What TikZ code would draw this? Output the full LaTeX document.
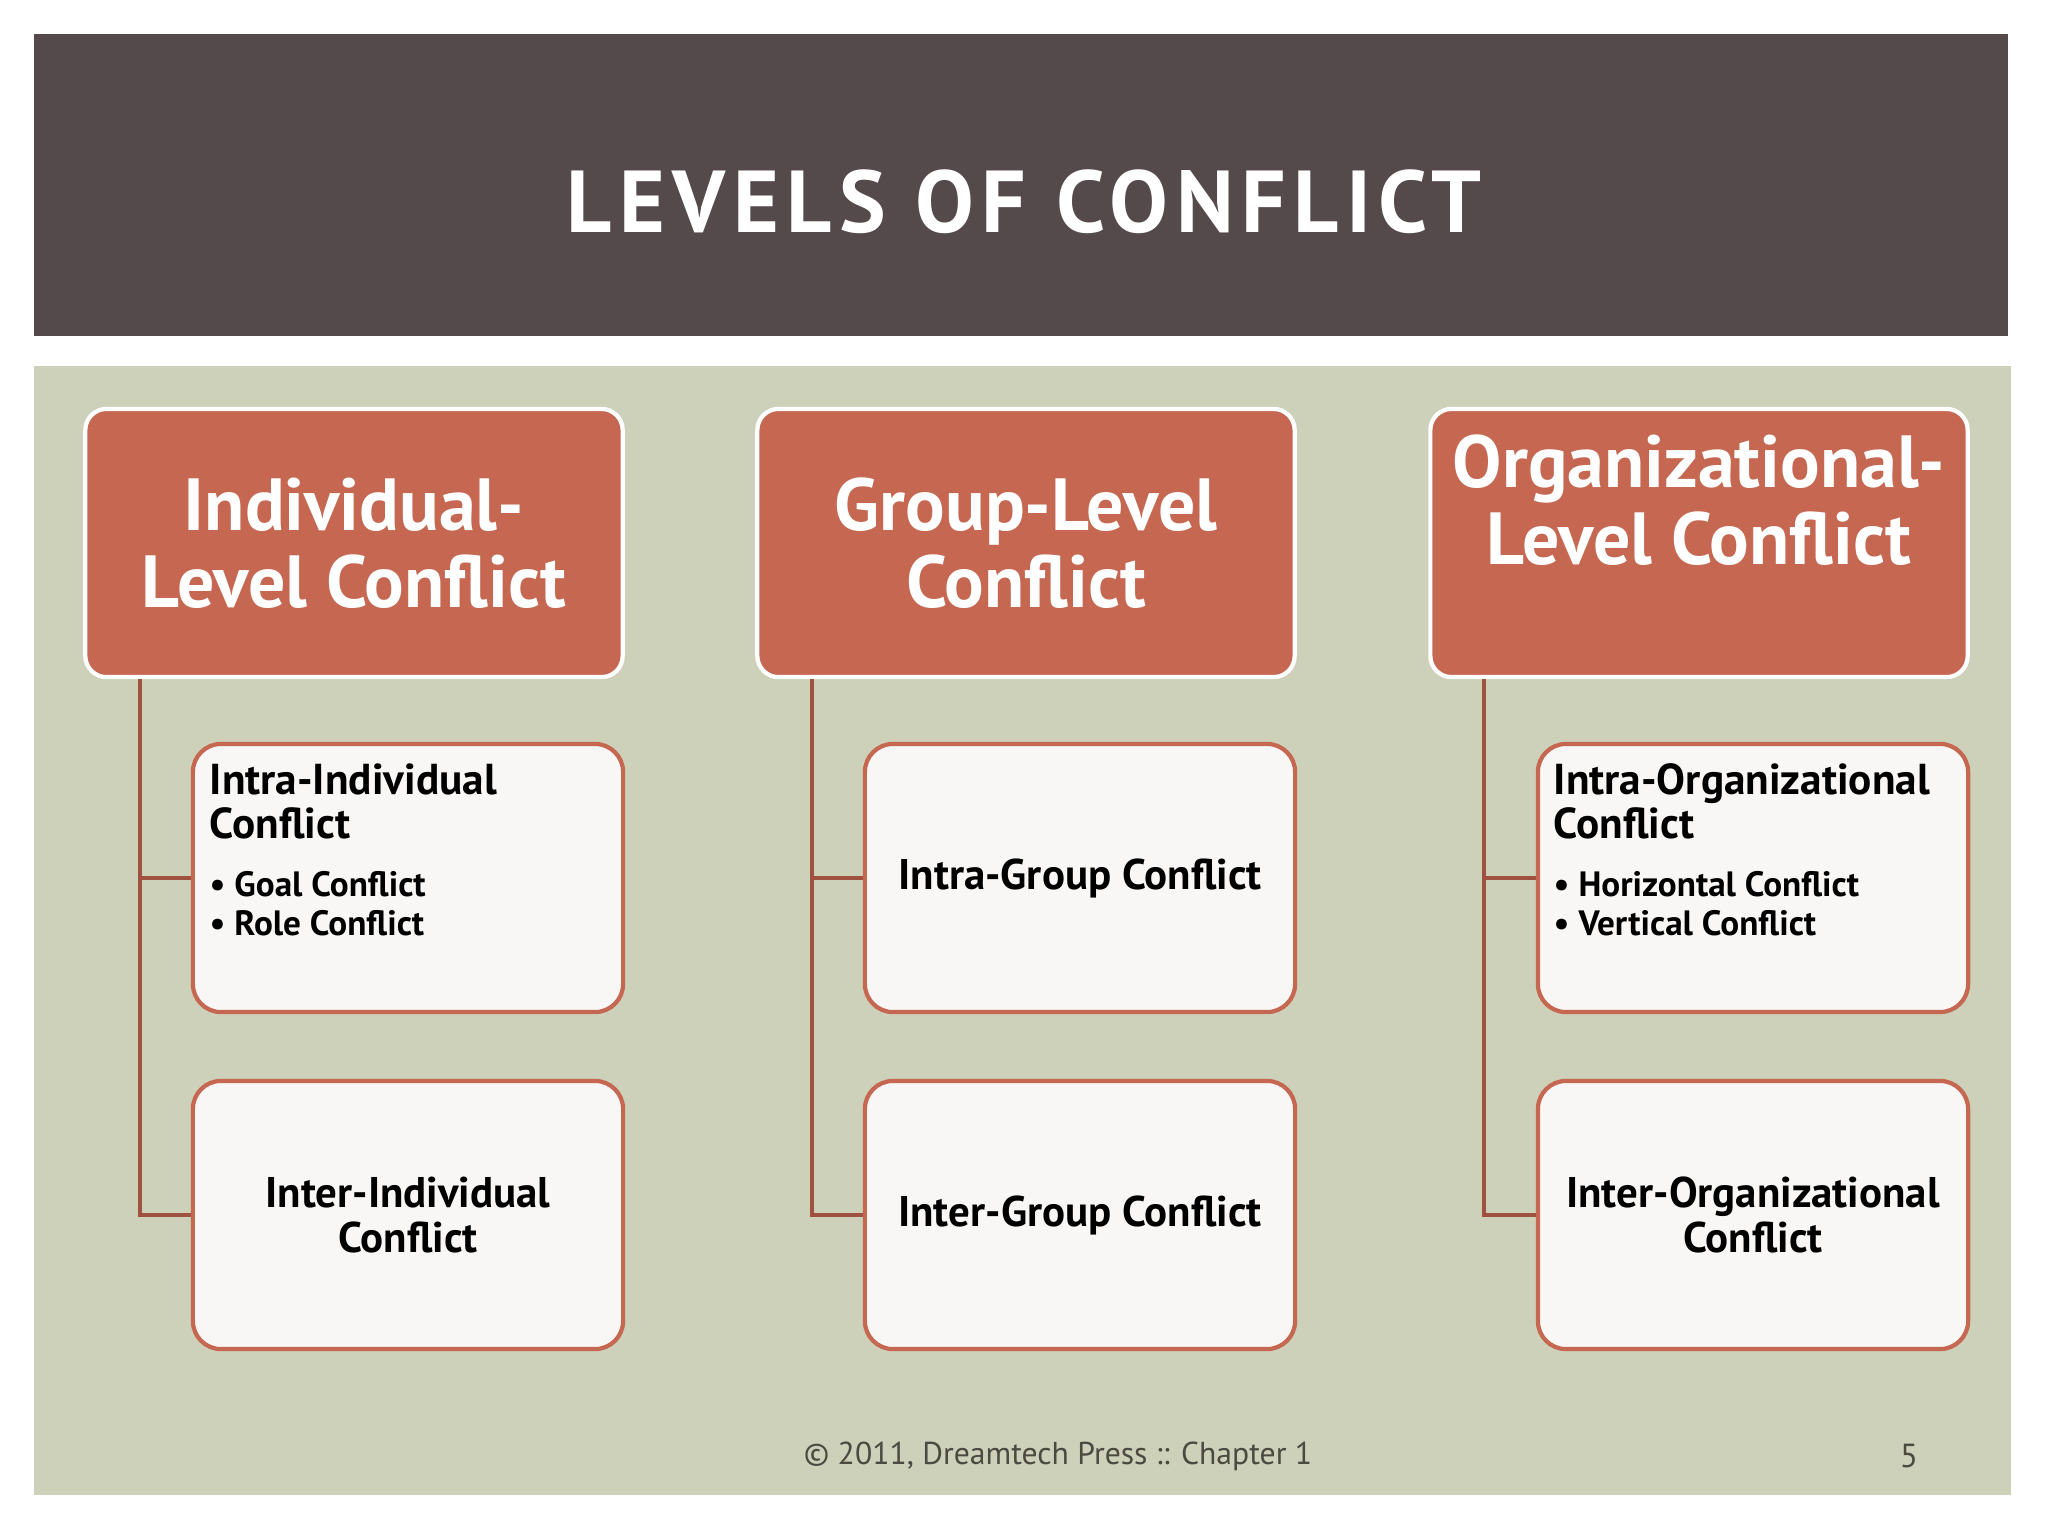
\documentclass[tikz,border=0pt]{standalone}
\usepackage{fontspec}
\setmainfont{PT Sans}
\newfontfamily\titrefont[LetterSpace=8.5]{PT Sans}
\usetikzlibrary{positioning}

\definecolor{bandeau}{RGB}{84,73,75}
\definecolor{fond}{RGB}{206,209,186}
\definecolor{brique}{RGB}{197,103,81}
\definecolor{trait}{RGB}{160,82,64}
\definecolor{papier}{RGB}{248,247,245}
\definecolor{pied}{RGB}{74,74,64}

\tikzset{
  niveau/.style={draw=white, line width=1.2pt, fill=brique, rounded corners=6pt,
    minimum width=5.37cm, minimum height=2.68cm},
  texteniveau/.style={text=white, align=center,
    font=\bfseries\fontsize{21}{22}\selectfont},
  sousniveau/.style={draw=brique, line width=1.2pt, fill=papier, rounded corners=8pt,
    minimum width=4.30cm, minimum height=2.68cm, align=center,
    font=\bfseries\fontsize{12.2}{12.7}\selectfont},
  titresous/.style={anchor=north west, inner sep=0pt, align=left,
    font=\bfseries\fontsize{12.3}{12.5}\selectfont},
  puces/.style={anchor=north west, inner sep=0pt, align=left,
    font=\bfseries\fontsize{10}{11}\selectfont},
  branche/.style={draw=trait, line width=1.1pt}
}

\begin{document}
\begin{tikzpicture}[x=0.01cm,y=-0.01cm]
\useasboundingbox (0,0) rectangle (2048,1536);
\fill[white] (0,0) rectangle (2048,1536);

% Bandeau du titre
\fill[bandeau] (34,34) rectangle (2008,336);
\node[text=white, font=\titrefont\bfseries\fontsize{25}{25}\selectfont] (titre) at (1024,202) {LEVELS OF CONFLICT};

% Fond vert
\fill[fond] (34,366) rectangle (2011,1495);

% Les trois niveaux
\node[niveau, texteniveau] (indiv) at (354,543) {Individual-\\Level Conflict};
\node[niveau, texteniveau] (groupe) at (1026,543) {Group-Level\\Conflict};
\node[niveau] (orga) at (1699,543) {};
\node[texteniveau] (orgatexte) at (1699,500) {Organizational-\\Level Conflict};

% Colonne individuelle
\node[sousniveau] (intraind) at (408,878) {};
\node[titresous] (intraindtitre) at (209,763) {Intra-Individual\\Conflict};
\node[puces, below right=0.31cm and 0.0cm of intraindtitre.south west] (intraindpuces) {\textbullet~Goal Conflict\\\textbullet~Role Conflict};
\node[sousniveau] (interind) at (408,1215) {Inter-Individual\\Conflict};

% Colonne groupe
\node[sousniveau] (intragrp) at (1080,878) {Intra-Group Conflict};
\node[sousniveau] (intergrp) at (1080,1215) {Inter-Group Conflict};

% Colonne organisation
\node[sousniveau] (intraorg) at (1753,878) {};
\node[titresous] (intraorgtitre) at (1553,763) {Intra-Organizational\\Conflict};
\node[puces, below right=0.31cm and 0.0cm of intraorgtitre.south west] (intraorgpuces) {\textbullet~Horizontal Conflict\\\textbullet~Vertical Conflict};
\node[sousniveau] (interorg) at (1753,1215) {Inter-Organizational\\Conflict};

% Branches
\coordinate (indtronc) at ([xshift=0.57cm]indiv.south west);
\coordinate (grptronc) at ([xshift=0.57cm]groupe.south west);
\coordinate (orgtronc) at ([xshift=0.56cm]orga.south west);
\draw[branche] (indtronc) |- (intraind.west);
\draw[branche] (indtronc) |- (interind.west);
\draw[branche] (grptronc) |- (intragrp.west);
\draw[branche] (grptronc) |- (intergrp.west);
\draw[branche] (orgtronc) |- (intraorg.west);
\draw[branche] (orgtronc) |- (interorg.west);

% Pied de page
\node[text=pied, font=\fontsize{9}{9}\selectfont] (pied) at (1058,1456) {© 2011, Dreamtech Press :: Chapter 1};
\node[text=pied, font=\fontsize{9.5}{9.5}\selectfont] (page) at (1909,1456) {5};

\end{tikzpicture}
\end{document}
